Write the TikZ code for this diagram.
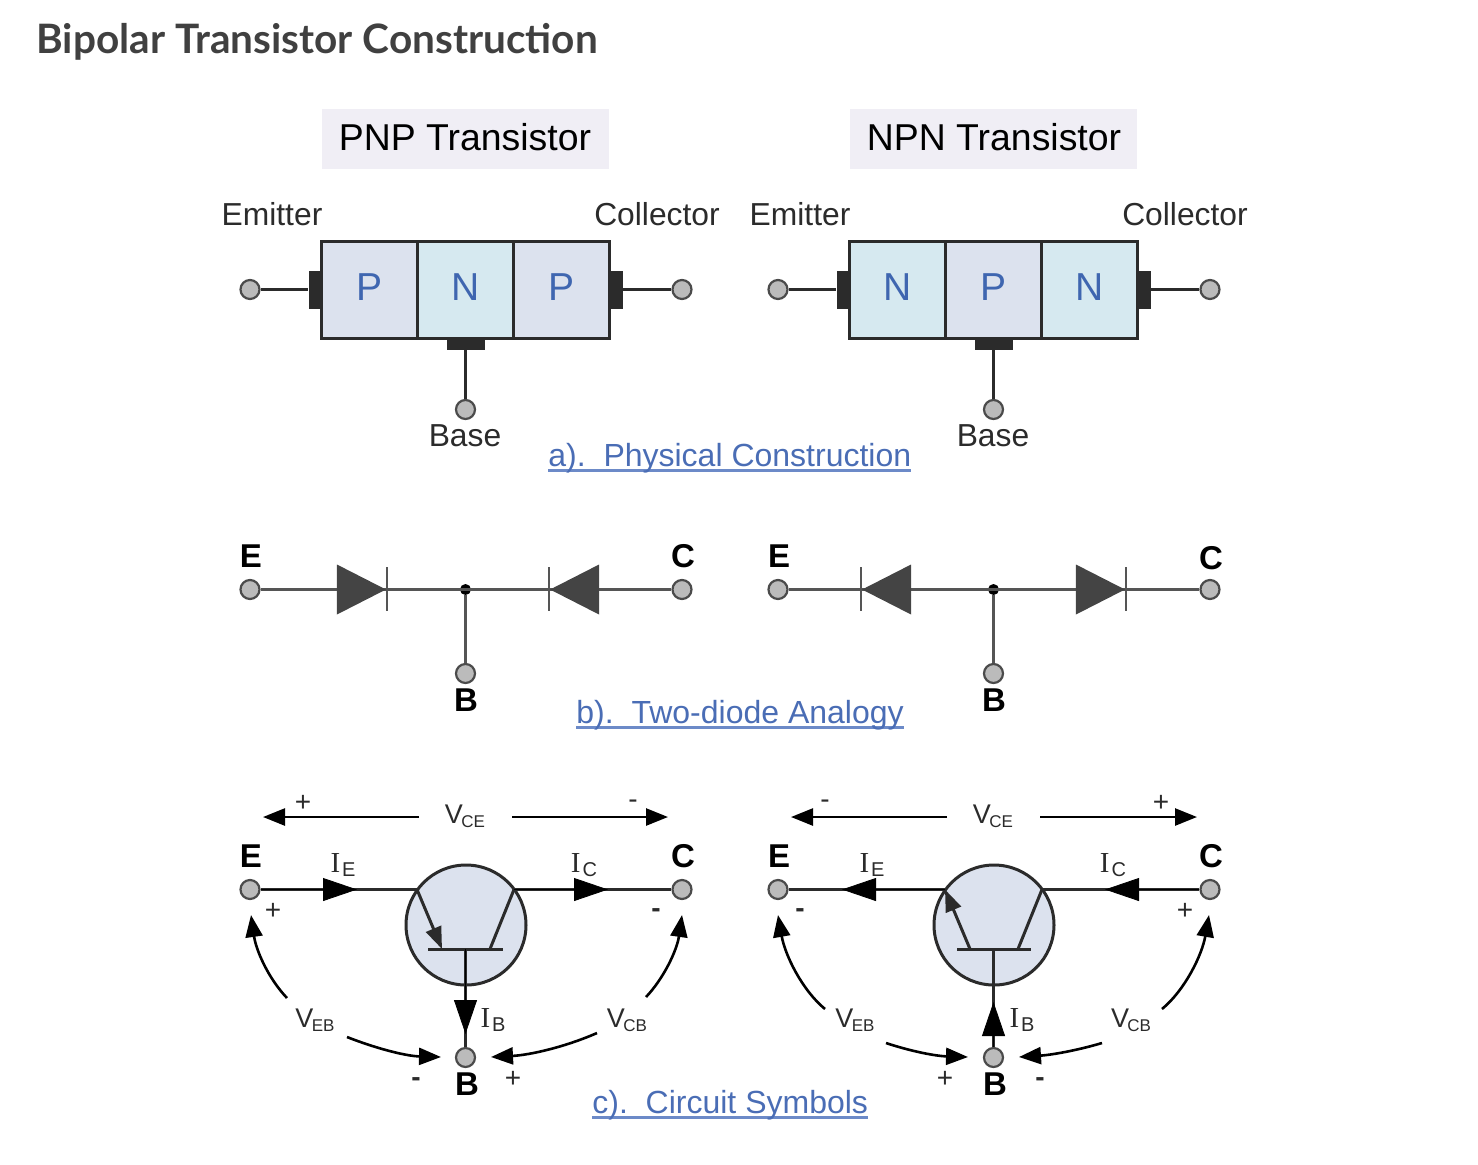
\documentclass[tikz,border=0pt]{standalone}
\usepackage{xcolor}
\usepackage{fontspec}
\setmainfont{Liberation Sans}
\newfontfamily\titlefont{Lato}
\newfontfamily\ifont{Liberation Serif}
\usepackage{tikz}
\usetikzlibrary{arrows.meta,shapes.geometric}
\definecolor{regionp}{HTML}{DCE2EE}
\definecolor{regionn}{HTML}{D6E9F0}
\definecolor{banner}{HTML}{F0EEF5}
\definecolor{letterblue}{HTML}{3F66B0}
\definecolor{linkblue}{HTML}{4A6DB5}
\definecolor{linkrule}{HTML}{6C8AC8}
\definecolor{titlegray}{HTML}{404040}
\definecolor{inkdark}{HTML}{2B2B2B}
\definecolor{diodegray}{HTML}{444444}
\definecolor{wiregray}{HTML}{555555}
\definecolor{termgray}{HTML}{BBBBBB}
\newcommand{\volt}[1]{{\fontsize{13.5}{14}\selectfont V}\kern-0.8pt\raisebox{-2pt}{\fontsize{8.5}{10}\selectfont #1}}
\newcommand{\amp}[1]{{\ifont\fontsize{14.5}{14}\selectfont I}\kern1pt\raisebox{-2pt}{\fontsize{10}{10}\selectfont #1}}
\newcommand{\linktext}[1]{\setbox0\hbox{#1}\rlap{\textcolor{linkrule}{\rule[-3pt]{\wd0}{1.3pt}}}\box0}
\tikzset{
  heading/.style={anchor=west, inner sep=0pt, text=titlegray, font=\titlefont\bfseries\fontsize{20.27}{24}\selectfont},
  banner/.style={fill=banner, minimum width=143.5pt, minimum height=30pt, inner sep=0pt},
  bannertext/.style={inner sep=0pt, font=\fontsize{18.7}{22}\selectfont},
  lead/.style={inner sep=0pt, text=inkdark, font=\fontsize{15.9}{18}\selectfont},
  pregion/.style={draw=inkdark, line width=1.5pt, fill=regionp, minimum width=48pt, minimum height=48.5pt, inner sep=0pt, text depth=2pt, text=letterblue, font=\fontsize{19.5}{22}\selectfont},
  nregion/.style={pregion, fill=regionn},
  tabside/.style={fill=inkdark, minimum width=6.5pt, minimum height=19pt, inner sep=0pt},
  tabbase/.style={fill=inkdark, minimum width=19pt, minimum height=6pt, inner sep=0pt},
  terminal/.style={circle, draw=inkdark!85, line width=1.1pt, fill=termgray, minimum size=9.5pt, inner sep=0pt},
  wire/.style={draw=inkdark, line width=1.5pt},
  softwire/.style={draw=wiregray, line width=1.35pt},
  diode/.style={isosceles triangle, isosceles triangle stretches, anchor=apex, fill=diodegray, minimum width=25pt, minimum height=24.5pt, inner sep=0pt},
  dot/.style={circle, fill=black, minimum size=5.5pt, inner sep=0pt},
  pin/.style={inner sep=0pt, text=black, font=\bfseries\fontsize{16.5}{18}\selectfont},
  caption/.style={anchor=base west, inner sep=0pt, text=linkblue, font=\fontsize{16}{18}\selectfont},
  note/.style={inner sep=0pt, text=inkdark},
  sign/.style={inner sep=0pt, text=inkdark, font=\fontsize{14}{14}\selectfont},
  signbold/.style={sign, font=\bfseries\fontsize{14}{14}\selectfont},
  bigarrow/.style={-{Triangle[length=17pt,width=11.5pt]}, draw=black, line width=0.4pt},
  smallarrow/.style={-{Triangle[length=11pt,width=8pt]}, wire},
  voltarrow/.style={-{Triangle[length=11pt,width=8.5pt]}, draw=black, line width=1.3pt},
  bodycircle/.style={circle, draw=inkdark, line width=1.5pt, fill=regionp, minimum size=60pt, inner sep=0pt}
}
\begin{document}
\begin{tikzpicture}[x=0.5pt, y=-0.5pt]
  \useasboundingbox (0,0) rectangle (1478,1164);
  \node[heading] (title) at (36,42) {Bipolar Transistor Construction};

  % physical construction
  \node[banner] (pnpBanner) at (465.5,139) {};
  \node[banner] (npnBanner) at (993.5,139) {};
  \node[bannertext] (pnpName) at (465,137) {PNP Transistor};
  \node[bannertext] (npnName) at (994,137) {NPN Transistor};

  \node[pregion] (pnpA) at (369.5,289.5) {P};
  \node[nregion] (pnpB) at (465.5,289.5) {N};
  \node[pregion] (pnpC) at (561.5,289.5) {P};
  \node[tabside] (pnpTabE) at (315,289.5) {};
  \node[tabside] (pnpTabC) at (616,289.5) {};
  \node[tabbase] (pnpTabB) at (465.5,344) {};
  \node[terminal] (pnpE) at (250,289.5) {};
  \node[terminal] (pnpK) at (682,289.5) {};
  \node[terminal] (pnpBase) at (465.5,409.5) {};
  \draw[wire] (pnpE) -- (pnpTabE);
  \draw[wire] (pnpTabC) -- (pnpK);
  \draw[wire] (pnpTabB) -- (pnpBase);
  \node[lead] (pnpEmitter) at (272,214) {Emitter};
  \node[lead] (pnpCollector) at (657,214) {Collector};
  \node[lead] (pnpBaseName) at (465,436) {Base};

  \node[nregion] (npnA) at (897.5,289.5) {N};
  \node[pregion] (npnB) at (993.5,289.5) {P};
  \node[nregion] (npnC) at (1089.5,289.5) {N};
  \node[tabside] (npnTabE) at (843,289.5) {};
  \node[tabside] (npnTabC) at (1144,289.5) {};
  \node[tabbase] (npnTabB) at (993.5,344) {};
  \node[terminal] (npnE) at (778,289.5) {};
  \node[terminal] (npnK) at (1210,289.5) {};
  \node[terminal] (npnBase) at (993.5,409.5) {};
  \draw[wire] (npnE) -- (npnTabE);
  \draw[wire] (npnTabC) -- (npnK);
  \draw[wire] (npnTabB) -- (npnBase);
  \node[lead] (npnEmitter) at (800,214) {Emitter};
  \node[lead] (npnCollector) at (1185,214) {Collector};
  \node[lead] (npnBaseName) at (993,436) {Base};

  \node[caption] (capA) at (548,466) {\linktext{a).\ \ Physical Construction}};

  % two diodes
  \node[terminal] (dpE) at (250,589.5) {};
  \node[terminal] (dpC) at (682,589.5) {};
  \node[terminal] (dpB) at (465.5,673.5) {};
  \node[dot] (dpJ) at (465.5,589.5) {};
  \draw[softwire] (dpE) -- (dpC);
  \draw[softwire] (dpJ) -- (dpB);
  \node[diode] (dpD1) at (387,589.5) {};
  \node[diode, shape border rotate=180] (dpD2) at (549,589.5) {};
  \draw[softwire] (387,567) -- (387,611);
  \draw[softwire] (549,567) -- (549,611);
  \node[pin] (dpEn) at (251,556) {E};
  \node[pin] (dpCn) at (683,556) {C};
  \node[pin] (dpBn) at (466,700) {B};

  \node[terminal] (dnE) at (778,589.5) {};
  \node[terminal] (dnC) at (1210,589.5) {};
  \node[terminal] (dnB) at (993.5,673.5) {};
  \node[dot] (dnJ) at (993.5,589.5) {};
  \draw[softwire] (dnE) -- (dnC);
  \draw[softwire] (dnJ) -- (dnB);
  \node[diode, shape border rotate=180] (dnD1) at (861,589.5) {};
  \node[diode] (dnD2) at (1126,589.5) {};
  \draw[softwire] (861,567) -- (861,611);
  \draw[softwire] (1126,567) -- (1126,611);
  \node[pin] (dnEn) at (779,556) {E};
  \node[pin] (dnCn) at (1211,558) {C};
  \node[pin] (dnBn) at (994,700) {B};

  \node[caption] (capB) at (576,723) {\linktext{b).\ \ Two-diode Analogy}};

  % circuit symbol, pnp
  \node[bodycircle] (spBody) at (466,925) {};
  \node[terminal] (spE) at (250,889.5) {};
  \node[terminal] (spC) at (682,889.5) {};
  \node[terminal] (spB) at (465.5,1057.5) {};
  \coordinate (spInE) at (417,889.5);
  \coordinate (spInC) at (514,889.5);
  \coordinate (spBarL) at (428,949);
  \coordinate (spBarR) at (503,949);
  \coordinate (spBarM) at (465.5,949);
  \coordinate (spEnd) at (442,949);
  \coordinate (spEndC) at (490,949);
  \coordinate (spTipE) at (357,889.5);
  \coordinate (spTipC) at (608,889.5);
  \coordinate (spTipB) at (465.5,1034);
  \draw[wire] (spE) -- (spInE);
  \draw[wire] (spInC) -- (spC);
  \draw[wire] (spBarL) -- (spBarR);
  \draw[wire] (spInC) -- (spEndC);
  \draw[wire] (spBarM) -- (spB);
  \draw[smallarrow] (spInE) -- (spEnd);
  \draw[bigarrow] (spE) -- (spTipE);
  \draw[bigarrow] (spInC) -- (spTipC);
  \draw[bigarrow] (spBarM) -- (spTipB);
  \coordinate (spVl) at (419,817);
  \coordinate (spVr) at (512,817);
  \coordinate (spVle) at (263,817);
  \coordinate (spVre) at (668,817);
  \draw[voltarrow] (spVl) -- (spVle);
  \draw[voltarrow] (spVr) -- (spVre);
  \coordinate (spA1) at (287,998);
  \coordinate (spA2) at (251,915);
  \coordinate (spA3) at (646,997);
  \coordinate (spA4) at (682,915);
  \coordinate (spA5) at (347,1037);
  \coordinate (spA6) at (441,1057);
  \coordinate (spA7) at (597,1033);
  \coordinate (spA8) at (491,1057);
  \draw[voltarrow] (spA1) .. controls (268,978) and (256,950) .. (spA2);
  \draw[voltarrow] (spA3) .. controls (664,978) and (677,950) .. (spA4);
  \draw[voltarrow] (spA5) .. controls (375,1048) and (405,1056) .. (spA6);
  \draw[voltarrow] (spA7) .. controls (565,1047) and (530,1055) .. (spA8);
  \node[note] (spVce) at (465,816) {\volt{CE}};
  \node[note] (spVeb) at (315,1020) {\volt{EB}};
  \node[note] (spVcb) at (627,1020) {\volt{CB}};
  \node[note] (spIe) at (343,865) {\amp{E}};
  \node[note] (spIc) at (584,865) {\amp{C}};
  \node[note] (spIb) at (493,1020) {\amp{B}};
  \node[pin] (spEn) at (251,856) {E};
  \node[pin] (spCn) at (683,856) {C};
  \node[pin] (spBn) at (467,1084) {B};
  \node[sign] (spS1) at (303,803) {+};
  \node[sign] (spS2) at (633,804) {-};
  \node[sign] (spS3) at (273,911) {+};
  \node[signbold] (spS4) at (656,913) {-};
  \node[signbold] (spS5) at (416,1082) {-};
  \node[sign] (spS6) at (513,1079) {+};

  % circuit symbol, npn
  \node[bodycircle] (snBody) at (994,925) {};
  \node[terminal] (snE) at (778,889.5) {};
  \node[terminal] (snC) at (1210,889.5) {};
  \node[terminal] (snB) at (993.5,1057.5) {};
  \coordinate (snInE) at (945,889.5);
  \coordinate (snInC) at (1042,889.5);
  \coordinate (snBarL) at (957,949);
  \coordinate (snBarR) at (1031,949);
  \coordinate (snBarM) at (993.5,949);
  \coordinate (snEnd) at (970,949);
  \coordinate (snEndC) at (1018,949);
  \coordinate (snTipE) at (842,889.5);
  \coordinate (snTipC) at (1105,889.5);
  \coordinate (snTipB) at (993.5,1002);
  \draw[wire] (snE) -- (snInE);
  \draw[wire] (snInC) -- (snC);
  \draw[wire] (snBarL) -- (snBarR);
  \draw[wire] (snInC) -- (snEndC);
  \draw[wire] (snBarM) -- (snB);
  \draw[smallarrow] (snEnd) -- (snInE);
  \draw[bigarrow] (snInE) -- (snTipE);
  \draw[bigarrow] (snC) -- (snTipC);
  \draw[bigarrow] (snB) -- (snTipB);
  \coordinate (snVl) at (947,817);
  \coordinate (snVr) at (1040,817);
  \coordinate (snVle) at (791,817);
  \coordinate (snVre) at (1197,817);
  \draw[voltarrow] (snVl) -- (snVle);
  \draw[voltarrow] (snVr) -- (snVre);
  \coordinate (snA1) at (825,1009);
  \coordinate (snA2) at (778,915);
  \coordinate (snA3) at (1162,1009);
  \coordinate (snA4) at (1209,915);
  \coordinate (snA5) at (886,1043);
  \coordinate (snA6) at (968,1057);
  \coordinate (snA7) at (1102,1043);
  \coordinate (snA8) at (1019,1057);
  \draw[voltarrow] (snA1) .. controls (802,990) and (785,955) .. (snA2);
  \draw[voltarrow] (snA3) .. controls (1185,990) and (1202,955) .. (snA4);
  \draw[voltarrow] (snA5) .. controls (910,1051) and (935,1056) .. (snA6);
  \draw[voltarrow] (snA7) .. controls (1075,1051) and (1050,1055) .. (snA8);
  \node[note] (snVce) at (993,816) {\volt{CE}};
  \node[note] (snVeb) at (855,1020) {\volt{EB}};
  \node[note] (snVcb) at (1131,1020) {\volt{CB}};
  \node[note] (snIe) at (872,865) {\amp{E}};
  \node[note] (snIc) at (1113,865) {\amp{C}};
  \node[note] (snIb) at (1022,1020) {\amp{B}};
  \node[pin] (snEn) at (779,856) {E};
  \node[pin] (snCn) at (1211,856) {C};
  \node[pin] (snBn) at (995,1084) {B};
  \node[sign] (snS1) at (825,804) {-};
  \node[sign] (snS2) at (1161,803) {+};
  \node[signbold] (snS3) at (800,913) {-};
  \node[sign] (snS4) at (1185,911) {+};
  \node[signbold] (snS5) at (1040,1082) {-};
  \node[sign] (snS6) at (945,1079) {+};

  \node[caption] (capC) at (592,1113) {\linktext{c).\ \ Circuit Symbols}};
\end{tikzpicture}
\end{document}
